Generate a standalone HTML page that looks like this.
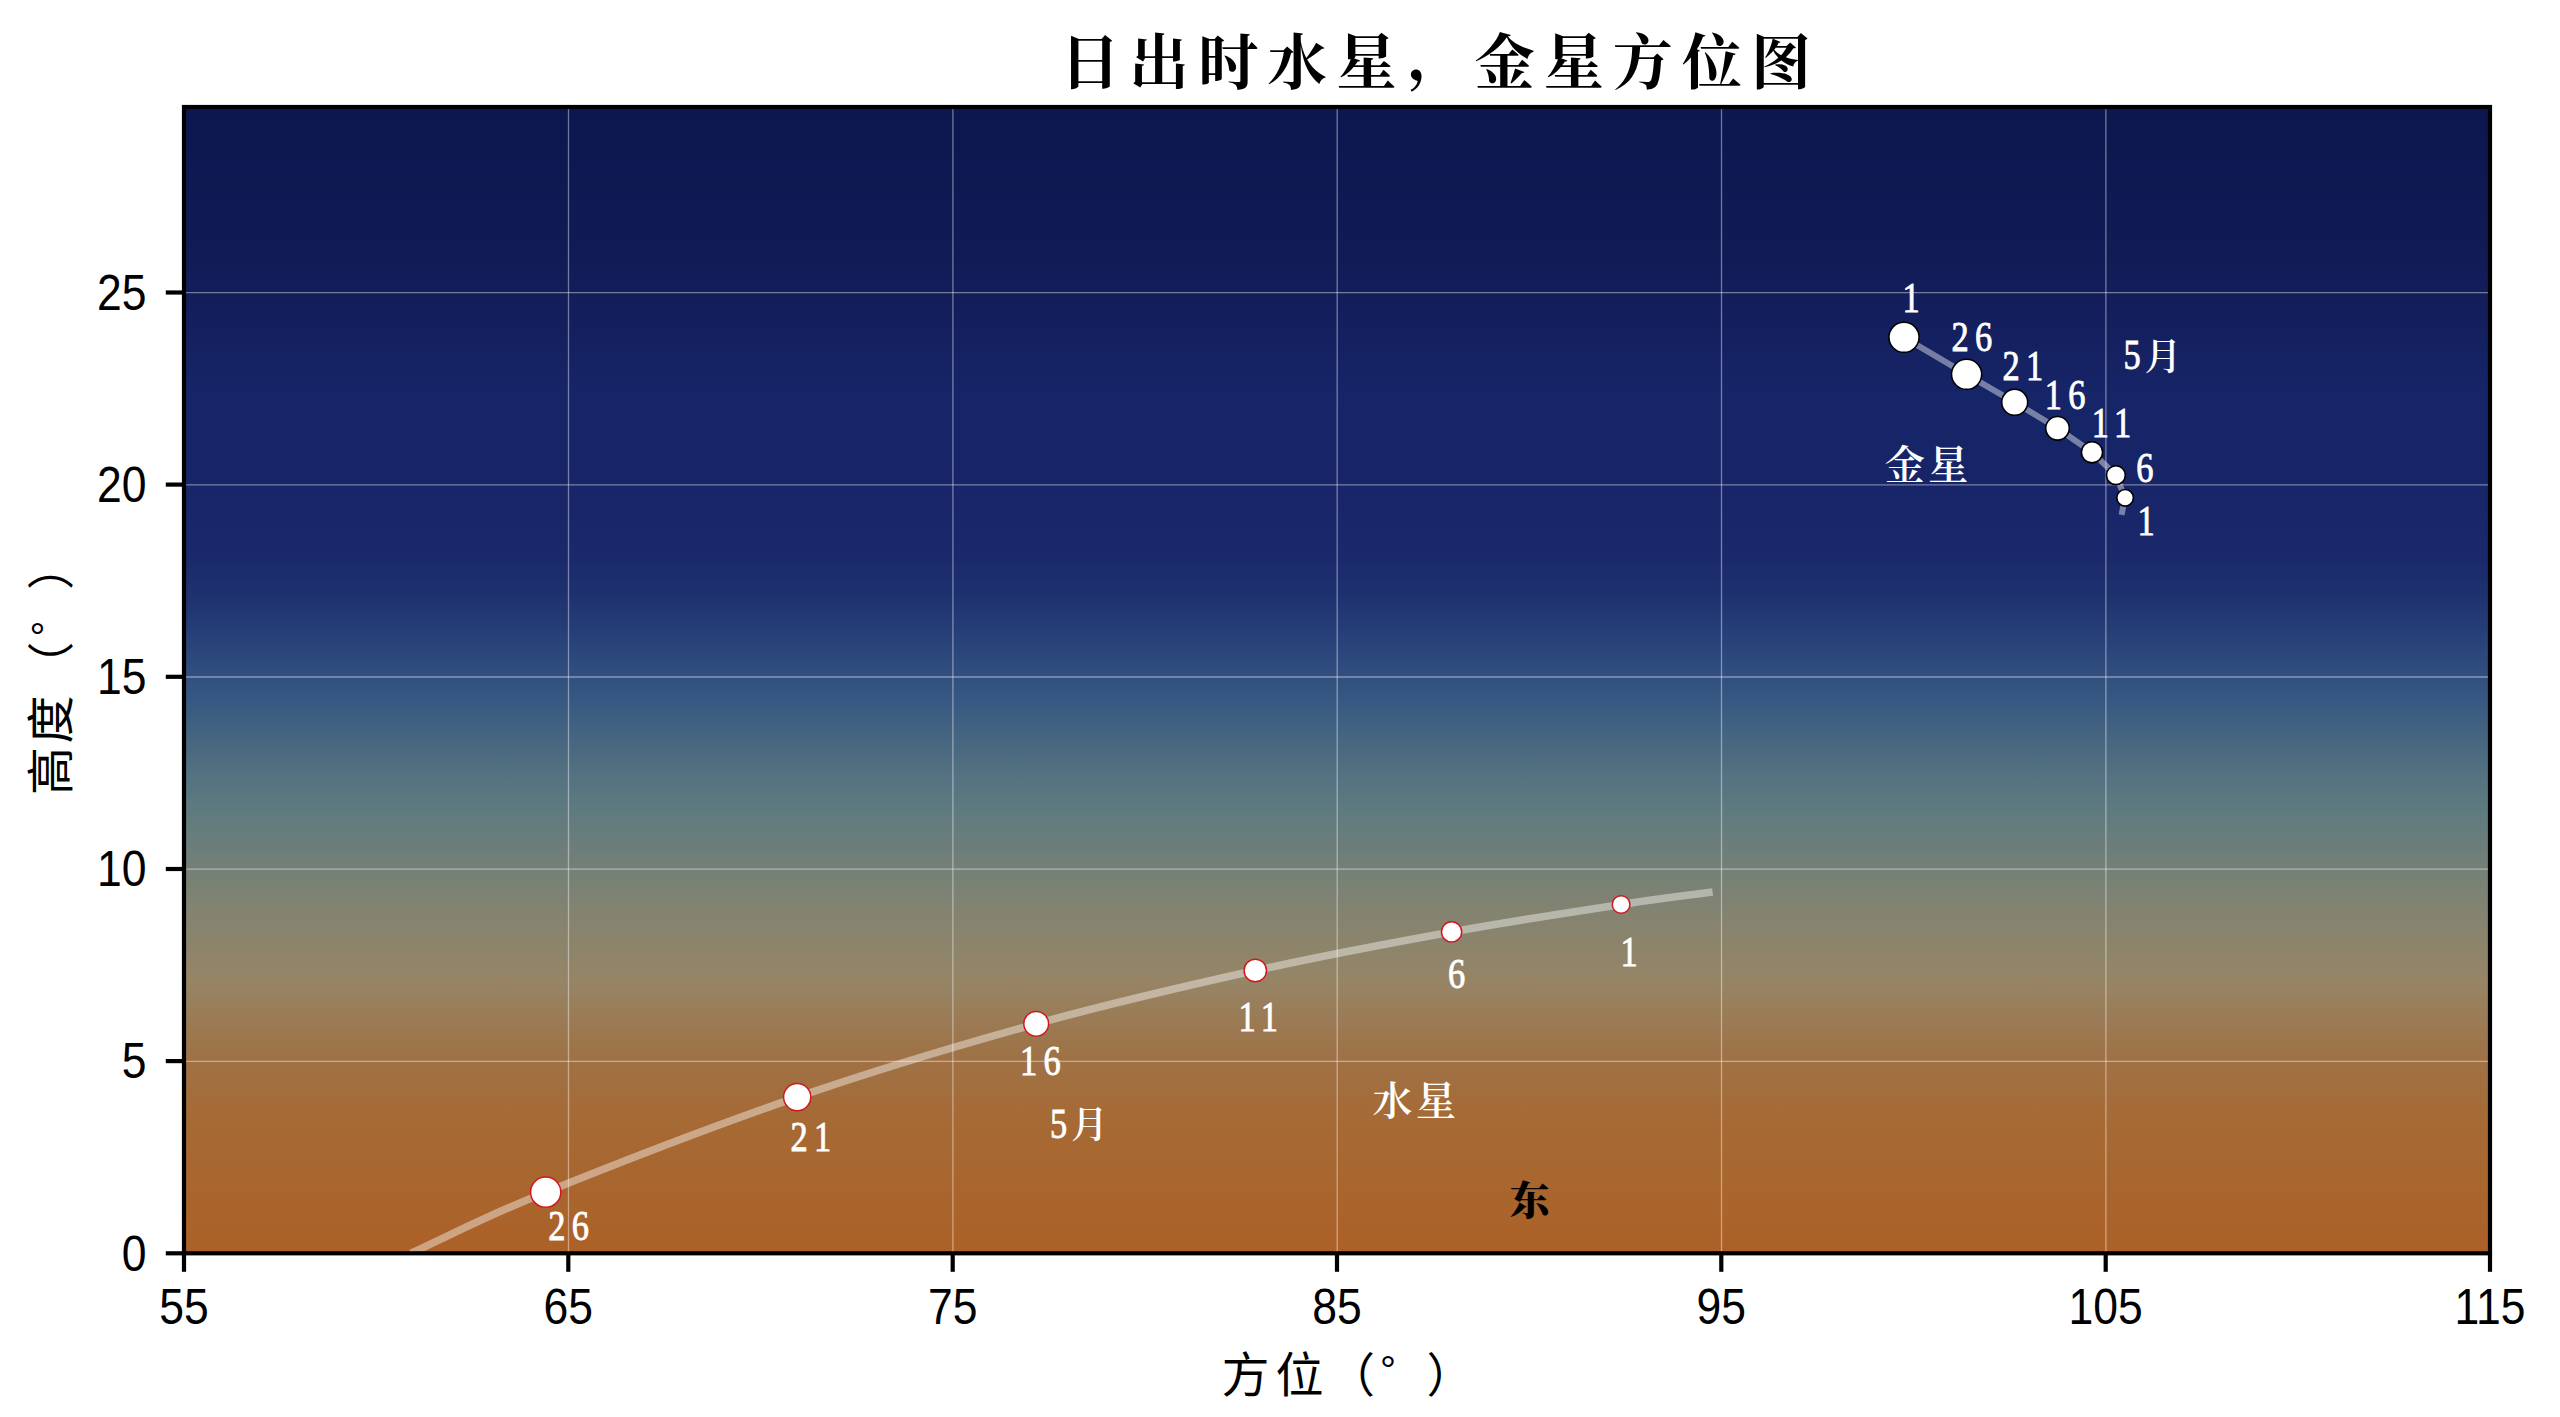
<!DOCTYPE html>
<html lang="zh-CN"><head><meta charset="utf-8"><title>日出时水星，金星方位图</title>
<style>
html,body{margin:0;padding:0;background:#fff;}
body{width:2560px;height:1417px;overflow:hidden;position:relative;}
svg{position:absolute;left:0;top:0;display:block;}
.tk{font-family:"Liberation Sans","Noto Sans CJK SC",sans-serif;font-size:50px;fill:#000;}
.ax{font-family:"Liberation Sans","Noto Sans CJK SC",sans-serif;font-size:48px;fill:#000;}
.pr{font-family:"Liberation Sans","Noto Sans CJK SC",sans-serif;font-size:47px;fill:#000;font-weight:400;}
.dg{font-family:"Liberation Sans","Noto Sans CJK SC",sans-serif;font-size:40px;fill:#000;}
.ti{font-family:"Liberation Serif","Noto Serif CJK SC",serif;font-weight:700;font-size:60px;fill:#000;letter-spacing:9.1px;}
.lb{font-family:"Liberation Serif","Noto Serif CJK SC",serif;font-size:43px;fill:#fff;stroke:#fff;stroke-width:0.9px;letter-spacing:7.9px;}
.ea{font-family:"Liberation Serif","Noto Serif CJK SC",serif;font-weight:900;font-size:40px;fill:#000;}
.cj{font-family:"Liberation Serif","Noto Serif CJK SC",serif;font-weight:600;font-size:40px;fill:#fff;letter-spacing:3.5px;}
.mo{font-family:"Liberation Serif","Noto Serif CJK SC",serif;font-weight:600;font-size:37px;fill:#fff;}
</style></head><body>
<svg width="2560" height="1417" viewBox="0 0 2560 1417">
<defs><linearGradient id="sky" gradientUnits="userSpaceOnUse" x1="0" y1="107" x2="0" y2="1253">
<stop offset="0.0000" stop-color="#0c164e"/>
<stop offset="0.0070" stop-color="#0c1750"/>
<stop offset="0.1161" stop-color="#101b55"/>
<stop offset="0.1815" stop-color="#131e5c"/>
<stop offset="0.2469" stop-color="#162568"/>
<stop offset="0.3168" stop-color="#172568"/>
<stop offset="0.3953" stop-color="#1a296b"/>
<stop offset="0.4302" stop-color="#1f3370"/>
<stop offset="0.4651" stop-color="#28427a"/>
<stop offset="0.5175" stop-color="#375882"/>
<stop offset="0.5785" stop-color="#527080"/>
<stop offset="0.6091" stop-color="#5d7a80"/>
<stop offset="0.6396" stop-color="#6a7d7b"/>
<stop offset="0.6963" stop-color="#818371"/>
<stop offset="0.7618" stop-color="#968566"/>
<stop offset="0.8229" stop-color="#9e7348"/>
<stop offset="0.8839" stop-color="#a66a35"/>
<stop offset="0.9843" stop-color="#ab6229"/>
<stop offset="1.0000" stop-color="#ab6128"/>
</linearGradient><clipPath id="cp"><rect x="184.0" y="107.0" width="2306.0" height="1146.3"/></clipPath></defs>
<rect x="184.0" y="107.0" width="2306.0" height="1146.3" fill="url(#sky)"/>
<g stroke="#fff" stroke-opacity="0.42" stroke-width="1.3" fill="none">
<line x1="568.5" y1="107.0" x2="568.5" y2="1253.3"/>
<line x1="952.9" y1="107.0" x2="952.9" y2="1253.3"/>
<line x1="1337.2" y1="107.0" x2="1337.2" y2="1253.3"/>
<line x1="1721.5" y1="107.0" x2="1721.5" y2="1253.3"/>
<line x1="2105.9" y1="107.0" x2="2105.9" y2="1253.3"/>
<line x1="184.0" y1="1061.3" x2="2490.0" y2="1061.3"/>
<line x1="184.0" y1="869.2" x2="2490.0" y2="869.2"/>
<line x1="184.0" y1="677.0" x2="2490.0" y2="677.0"/>
<line x1="184.0" y1="484.8" x2="2490.0" y2="484.8"/>
<line x1="184.0" y1="292.7" x2="2490.0" y2="292.7"/>
</g>
<g clip-path="url(#cp)" fill="none" stroke="#fff" stroke-opacity="0.42" stroke-width="6" stroke-linecap="butt" stroke-linejoin="round">
<path stroke-width="7.6" d="M411.0 1253.3 C455.3 1232.9 481.3 1218.2 545.7 1192.2 C610.1 1166.2 715.5 1125.2 797.2 1097.1 C879.0 1069.0 959.9 1044.9 1036.2 1023.8 C1112.5 1002.7 1186.1 985.8 1255.3 970.5 C1324.5 955.2 1390.6 942.9 1451.6 931.9 C1512.6 920.9 1577.6 911.1 1621.1 904.5 C1664.6 897.9 1681.9 896.1 1712.6 892.1"/>
<path d="M1904.0 337.3 L1966.6 374.3 L2014.7 402.3 L2057.5 428.3 L2092.0 452.3 L2115.9 475.2 L2125.1 497.8 L2121.5 514.8"/>
</g>
<g fill="#fff" stroke="#d2161f" stroke-width="1.5">
<circle cx="545.7" cy="1192.2" r="15.1"/>
<circle cx="797.2" cy="1097.1" r="13.6"/>
<circle cx="1036.2" cy="1023.8" r="12.4"/>
<circle cx="1255.3" cy="970.5" r="11.2"/>
<circle cx="1451.6" cy="931.9" r="10.1"/>
<circle cx="1621.1" cy="904.5" r="8.8"/>
</g>
<g fill="#fff" stroke="#000" stroke-width="1.6">
<circle cx="1904.0" cy="337.3" r="15.1"/>
<circle cx="1966.6" cy="374.3" r="15.1"/>
<circle cx="2014.7" cy="402.3" r="13.0"/>
<circle cx="2057.5" cy="428.3" r="11.8"/>
<circle cx="2092.0" cy="452.3" r="10.6"/>
<circle cx="2115.9" cy="475.2" r="9.4"/>
<circle cx="2125.1" cy="497.8" r="8.3"/>
</g>
<rect x="184.0" y="107.0" width="2306.0" height="1146.3" fill="none" stroke="#000" stroke-width="4.2"/>
<g stroke="#000" stroke-width="4.2">
<line x1="184.0" y1="1253.3" x2="184.0" y2="1271.8"/>
<line x1="568.3" y1="1253.3" x2="568.3" y2="1271.8"/>
<line x1="952.7" y1="1253.3" x2="952.7" y2="1271.8"/>
<line x1="1337.0" y1="1253.3" x2="1337.0" y2="1271.8"/>
<line x1="1721.3" y1="1253.3" x2="1721.3" y2="1271.8"/>
<line x1="2105.7" y1="1253.3" x2="2105.7" y2="1271.8"/>
<line x1="2490.0" y1="1253.3" x2="2490.0" y2="1271.8"/>
<line x1="165.8" y1="1253.3" x2="184.0" y2="1253.3"/>
<line x1="165.8" y1="1061.1" x2="184.0" y2="1061.1"/>
<line x1="165.8" y1="869.0" x2="184.0" y2="869.0"/>
<line x1="165.8" y1="676.8" x2="184.0" y2="676.8"/>
<line x1="165.8" y1="484.6" x2="184.0" y2="484.6"/>
<line x1="165.8" y1="292.5" x2="184.0" y2="292.5"/>
</g>
<g class="tk" text-anchor="middle">
<text transform="translate(184.0 1324) scale(0.89 1)">55</text>
<text transform="translate(568.3 1324) scale(0.89 1)">65</text>
<text transform="translate(952.7 1324) scale(0.89 1)">75</text>
<text transform="translate(1337.0 1324) scale(0.89 1)">85</text>
<text transform="translate(1721.3 1324) scale(0.89 1)">95</text>
<text transform="translate(2105.7 1324) scale(0.89 1)">105</text>
<text transform="translate(2490.0 1324) scale(0.89 1)">115</text>
</g><g class="tk" text-anchor="end">
<text transform="translate(146.5 1270.6) scale(0.89 1)">0</text>
<text transform="translate(146.5 1078.4) scale(0.89 1)">5</text>
<text transform="translate(146.5 886.3) scale(0.89 1)">10</text>
<text transform="translate(146.5 694.1) scale(0.89 1)">15</text>
<text transform="translate(146.5 501.9) scale(0.89 1)">20</text>
<text transform="translate(146.5 309.8) scale(0.89 1)">25</text>
</g>
<text class="ax" x="1221.6" y="1392">方</text>
<text class="ax" x="1275.5" y="1392">位</text>
<text class="pr" x="1328" y="1392">（</text>
<text class="dg" x="1380" y="1384">°</text>
<text class="pr" x="1426.5" y="1392">）</text>
<g transform="matrix(0 -1 1 0 -1324.5 2016.5)">
<text class="ax" x="1221.6" y="1392">高</text>
<text class="ax" x="1273.0" y="1392">度</text>
<text class="pr" x="1328" y="1392">（</text>
<text class="dg" x="1380" y="1384">°</text>
<text class="pr" x="1426.5" y="1392">）</text>
</g>
<text class="ti" x="1060" y="83.5">日出时水星<tspan dx="2" dy="-6">，</tspan><tspan dx="-2" dy="6">金星方位图</tspan></text>
<text class="lb" transform="translate(1902.4 311.6) scale(0.80 1)">1</text>
<text class="lb" transform="translate(1951.5 351.4) scale(0.80 1)">26</text>
<text class="lb" transform="translate(2002.4 380.0) scale(0.80 1)">21</text>
<text class="lb" transform="translate(2044.8 408.8) scale(0.80 1)">16</text>
<text class="lb" transform="translate(2091.8 437.4) scale(0.80 1)">11</text>
<text class="lb" transform="translate(2136.2 482.4) scale(0.80 1)">6</text>
<text class="lb" transform="translate(2137.4 534.8) scale(0.80 1)">1</text>
<text class="lb" transform="translate(548.3 1239.5) scale(0.80 1)">26</text>
<text class="lb" transform="translate(790.6 1150.8) scale(0.80 1)">21</text>
<text class="lb" transform="translate(1019.9 1075.2) scale(0.80 1)">16</text>
<text class="lb" transform="translate(1238.4 1030.8) scale(0.80 1)">11</text>
<text class="lb" transform="translate(1448.0 988.4) scale(0.80 1)">6</text>
<text class="lb" transform="translate(1620.4 966.4) scale(0.80 1)">1</text>
<text class="lb" transform="translate(2123.6 369.4) scale(0.80 1)">5</text>
<text class="lb" transform="translate(1049.9 1137.6) scale(0.80 1)">5</text>
<text class="mo" x="2144.5" y="370.0">月</text>
<text class="mo" x="1070.9" y="1137.5">月</text>
<text class="cj" x="1884.8" y="479.4">金星</text>
<text class="cj" x="1372.6" y="1114.6">水星</text>
<text class="ea" x="1509.8" y="1214.6">东</text>
</svg></body></html>
